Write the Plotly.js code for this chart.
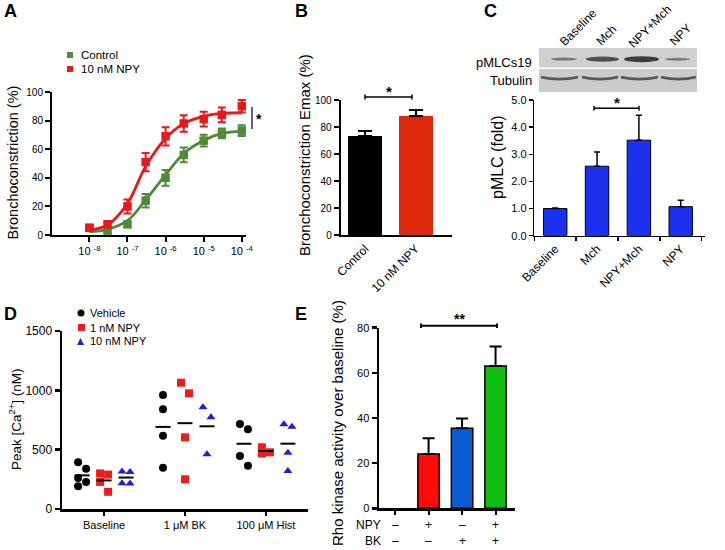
<!DOCTYPE html>
<html><head><meta charset="utf-8">
<script src="https://cdn.plot.ly/plotly-3.0.1.min.js"></script>
<style>html,body{margin:0;padding:0;background:#fff}#chart{width:725px;height:550px}</style>
</head><body><div id="chart"></div>
<script>
// ---------- Panel A data ----------
const aConc = [1e-8, 3e-8, 1e-7, 3e-7, 1e-6, 3e-6, 1e-5, 3e-5, 1e-4];
const aTickVals = [1e-8, 1e-7, 1e-6, 1e-5, 1e-4];
const aTickText = ['10 <sup>-8</sup>', '10 <sup>-7</sup>', '10 <sup>-6</sup>', '10 <sup>-5</sup>', '10 <sup>-4</sup>'];
const aCtrl = [5, 3, 7.5, 24, 40, 56, 66, 71, 73];
const aCtrlErr = [1.5, 1.5, 2, 4.7, 5.5, 5.2, 4.1, 3.4, 3.7];
const aNpy = [5, 7.5, 20, 51, 69, 78, 81, 84, 90];
const aNpyErr = [2, 2, 4.9, 6.4, 6.4, 5.8, 5.2, 5.1, 4.4];
const aCtrlFit = [2.3, 4, 10, 24.5, 42, 57, 66, 71, 72.5];
const aNpyFit = [3.5, 7, 22, 48, 67.5, 78, 83, 85, 85.5];
// ---------- Panel B data ----------
const bCats = ['Control', '10 nM NPY'];
const bVals = [73.5, 88.2];
const bErr = [3.5, 4.4];
// ---------- Panel C data ----------
const cCats = ['Baseline', 'Mch', 'NPY+Mch', 'NPY'];
const cVals = [1.0, 2.56, 3.52, 1.07];
const cErr = [0.02, 0.52, 0.92, 0.24];
// ---------- Panel D data ----------
const dCats = ['Baseline', '1 \u03bcM BK', '100 \u03bcM Hist'];
const dVehicle = [[395, 340, 262, 228, 192], [961, 840, 618, 348], [716, 671, 447, 365]];
const d1nM = [[300, 290, 228, 145], [1064, 975, 604, 250], [520, 478, 468]];
const d10nM = [[315, 312, 218, 215], [857, 773, 461], [714, 694, 474, 320]];
const dGroups = ['Vehicle', '1 nM NPY', '10 nM NPY'];
// ---------- Panel E data ----------
const eCats = ['none', 'NPY', 'BK', 'NPY+BK'];
const eVals = [null, 24, 35.5, 63];
const eErr = [0, 7, 4.3, 8.7];
const eNpyRow = ['\u2013', '+', '\u2013', '+'];
const eBkRow = ['\u2013', '\u2013', '+', '+'];

// ---------- helpers ----------
const W = 725, H = 550;
const FONT = 'Liberation Sans, Arial, sans-serif';
const xd = (a, b) => [a / W, b / W];
const yd = (top, bot) => [1 - bot / H, 1 - top / H];
const px = x => x / W;
const py = y => 1 - y / H;

const GREEN = '#4e8a3a', RED = '#e8191c';
const traces = [];

// Panel A
traces.push({x: aConc, y: aCtrlFit, mode: 'lines', line: {color: GREEN, width: 2.8, shape: 'spline', smoothing: 1}, xaxis: 'x', yaxis: 'y', hoverinfo: 'skip'});
traces.push({x: aConc, y: aNpyFit, mode: 'lines', line: {color: RED, width: 2.8, shape: 'spline', smoothing: 1}, xaxis: 'x', yaxis: 'y', hoverinfo: 'skip'});
traces.push({x: aConc, y: aCtrl, mode: 'markers', marker: {symbol: 'square', size: 8.5, color: GREEN},
  error_y: {type: 'data', array: aCtrlErr, color: GREEN, thickness: 2, width: 4}, xaxis: 'x', yaxis: 'y'});
traces.push({x: aConc, y: aNpy, mode: 'markers', marker: {symbol: 'square', size: 8.5, color: RED},
  error_y: {type: 'data', array: aNpyErr, color: RED, thickness: 2, width: 4}, xaxis: 'x', yaxis: 'y'});

// Panel B
traces.push({type: 'bar', x: bCats, y: bVals, width: 0.67, marker: {color: ['#000000', '#de2a0c'], line: {width: 0}},
  error_y: {type: 'data', symmetric: false, array: bErr, arrayminus: [0, 0], color: '#000', thickness: 2, width: 7},
  xaxis: 'x2', yaxis: 'y2'});

// Panel C
traces.push({type: 'bar', x: cCats, y: cVals, width: 0.56, marker: {color: '#1d30ee', line: {color: '#000', width: 1}},
  error_y: {type: 'data', symmetric: false, array: cErr, arrayminus: cErr.map(() => 0), color: '#000', thickness: 1.5, width: 3},
  xaxis: 'x3', yaxis: 'y3'});

// Panel D
const D_PX_PER_UNIT = 81;
function spread(vals) {
  const idx = vals.map((v, i) => i).sort((a, b) => vals[b] - vals[a]);
  const off = new Array(vals.length).fill(0);
  let cluster = [idx[0]];
  const flush = () => { if (cluster.length > 1) cluster.forEach((k, j) => { off[k] = (j % 2 === 0 ? -1 : 1) * 4; }); };
  for (let i = 1; i < idx.length; i++) {
    if (vals[idx[i - 1]] - vals[idx[i]] < 100) cluster.push(idx[i]);
    else { flush(); cluster = [idx[i]]; }
  }
  flush();
  return off;
}
const dSeries = [dVehicle, d1nM, d10nM];
const dSymbols = ['circle', 'square', 'triangle-up'];
const dColors = ['#000000', '#ee1c1c', '#1c22d8'];
const dSizes = [8, 8, 8];
const dGroupOff = [-22, 0, 22];
dSeries.forEach((ser, g) => {
  const xs = [], ys = [], mx = [], my = [];
  ser.forEach((vals, c) => {
    const off = spread(vals);
    const cx = c + 1 + dGroupOff[g] / D_PX_PER_UNIT;
    vals.forEach((v, i) => { xs.push(cx + off[i] / D_PX_PER_UNIT); ys.push(v); });
    const mean = vals.reduce((s, v) => s + v, 0) / vals.length;
    mx.push(cx - 7.5 / D_PX_PER_UNIT, cx + 7.5 / D_PX_PER_UNIT, null);
    my.push(mean, mean, null);
  });
  traces.push({x: xs, y: ys, mode: 'markers', name: dGroups[g], marker: {symbol: dSymbols[g], size: dSizes[g], color: dColors[g]}, xaxis: 'x4', yaxis: 'y4'});
  traces.push({x: mx, y: my, mode: 'lines', line: {color: '#000', width: 2}, xaxis: 'x4', yaxis: 'y4', hoverinfo: 'skip'});
});

// Panel E
traces.push({type: 'bar', x: eCats, y: eVals, width: 0.64,
  marker: {color: ['#ffffff', '#ff0a0a', '#0a5cd0', '#10c010'], line: {color: '#000', width: 1.5}},
  error_y: {type: 'data', symmetric: false, array: eErr, arrayminus: eErr.map(() => 0), color: '#000', thickness: 2, width: 6},
  xaxis: 'x5', yaxis: 'y5'});

// ---------- axes ----------
function ax(extra) {
  return Object.assign({showline: true, linecolor: '#000', linewidth: 2, ticks: 'outside', tickcolor: '#000', tickwidth: 2, ticklen: 5,
    showgrid: false, zeroline: false, fixedrange: true, tickfont: {family: FONT, size: 10, color: '#000'}}, extra);
}

const layout = {
  width: W, height: H, margin: {l: 0, r: 0, t: 0, b: 0}, paper_bgcolor: '#fff', plot_bgcolor: 'rgba(0,0,0,0)',
  showlegend: false, font: {family: FONT, color: '#000'}, bargap: 0,
  xaxis: ax({type: 'log', domain: xd(52, 246), range: [-8.98, -3.89], anchor: 'y', tickmode: 'array', tickvals: aTickVals, ticktext: aTickText, tickfont: {family: FONT, size: 11, color: '#000'}}),
  yaxis: ax({domain: yd(92, 235), range: [0, 100], dtick: 20, anchor: 'x'}),
  xaxis2: ax({type: 'category', domain: xd(340.7, 451.7), range: [-0.48, 1.71], anchor: 'y2', ticks: '', tickangle: -45, tickfont: {family: FONT, size: 12, color: '#000'}}),
  yaxis2: ax({domain: yd(100, 235), range: [0, 100], dtick: 20, anchor: 'x2'}),
  xaxis3: ax({type: 'category', domain: xd(534.3, 705), range: [-0.5, 3.58], anchor: 'y3', tickson: 'boundaries', linewidth: 1.5, tickwidth: 1.5, ticklen: 4, tickangle: -45, tickfont: {family: FONT, size: 12, color: '#000'}}),
  yaxis3: ax({domain: yd(100, 235.7), range: [0, 5], dtick: 1, tickformat: '.1f', anchor: 'x3', linewidth: 1.5, tickwidth: 1.5, ticklen: 4, tickfont: {family: FONT, size: 11, color: '#000'}}),
  xaxis4: ax({domain: xd(62, 308), range: [0.48, 3.52], anchor: 'y4', tickmode: 'array', tickvals: [1, 2, 3], ticktext: dCats, linewidth: 2.5, tickwidth: 2.5, ticklen: 4, tickfont: {family: FONT, size: 11, color: '#000'}}),
  yaxis4: ax({domain: yd(331, 509), range: [0, 1500], dtick: 500, anchor: 'x4', linewidth: 2.5, tickwidth: 2.5, tickfont: {family: FONT, size: 12, color: '#000'}}),
  xaxis5: ax({type: 'category', domain: xd(379, 515), range: [-0.48, 3.58], anchor: 'y5', showticklabels: false, linewidth: 2.5, tickwidth: 2, ticklen: 4}),
  yaxis5: ax({domain: yd(327.7, 508.3), range: [0, 80], dtick: 20, anchor: 'x5', linewidth: 2.5, tickwidth: 2.5, tickfont: {family: FONT, size: 11, color: '#000'}}),
  annotations: [], shapes: []
};

const ann = layout.annotations, shp = layout.shapes;
function txt(t, x, y, o) {
  ann.push(Object.assign({text: t, x: px(x), y: py(y), xref: 'paper', yref: 'paper', showarrow: false,
    xanchor: 'center', yanchor: 'middle', font: {family: FONT, size: 11, color: '#000'}}, o || {}));
}
function line(x0, y0, x1, y1, w, c) {
  shp.push({type: 'line', xref: 'paper', yref: 'paper', x0: px(x0), y0: py(y0), x1: px(x1), y1: py(y1), line: {color: c || '#000', width: w || 1.5}});
}
function rect(x0, y0, x1, y1, fill, type) {
  shp.push({type: type || 'rect', xref: 'paper', yref: 'paper', x0: px(x0), y0: py(y0), x1: px(x1), y1: py(y1), fillcolor: fill, line: {width: 0}, layer: 'above'});
}
function path(d, fill) {
  shp.push({type: 'path', xref: 'paper', yref: 'paper', path: d, fillcolor: fill, line: {width: 0}, layer: 'above'});
}
const P = (x, y) => px(x) + ',' + py(y);

// panel letters
[['A', 2, 11], ['B', 293, 11], ['C', 482, 11], ['D', 2, 314], ['E', 293, 314]].forEach(([t, x, y]) =>
  txt('<b>' + t + '</b>', x, y, {xanchor: 'left', font: {family: FONT, size: 18, color: '#000'}}));

// axis titles
txt('Bronchoconstriction (%)', 12.5, 163, {textangle: -90, font: {family: FONT, size: 14.5, color: '#000'}});
txt('Bronchoconstriction Emax (%)', 305, 155, {textangle: -90, font: {family: FONT, size: 15, color: '#000'}});
txt('pMLC (fold)', 498, 157, {textangle: -90, font: {family: FONT, size: 16, color: '#000'}});
txt('Peak [Ca<sup>2+</sup>] (nM)', 15, 419, {textangle: -90, font: {family: FONT, size: 13.5, color: '#000'}});
txt('Rho kinase activity over baseline (%)', 337, 423, {textangle: -90, font: {family: FONT, size: 15, color: '#000'}});

// legend A
rect(67, 52, 73, 58, GREEN);
rect(67, 66, 73, 72, RED);
txt('Control', 79, 55, {xanchor: 'left', font: {family: FONT, size: 11.5, color: '#000'}});
txt('10 nM NPY', 79, 69, {xanchor: 'left', font: {family: FONT, size: 11.5, color: '#000'}});
// significance A
line(252, 107, 252, 129, 1.5, '#333');
txt('<b>*</b>', 259, 119, {font: {family: FONT, size: 14, color: '#000'}});

// significance B
line(365, 97, 412, 97, 1.5); line(365, 94.5, 365, 99.5, 1.5); line(412, 94.5, 412, 99.5, 1.5);
txt('<b>*</b>', 388.5, 91, {font: {family: FONT, size: 15, color: '#000'}});
// significance C
line(594, 108.3, 639, 108.3, 1.5); line(594, 106, 594, 110.5, 1.5); line(639, 106, 639, 110.5, 1.5);
txt('<b>*</b>', 617, 103, {font: {family: FONT, size: 15, color: '#000'}});
// significance E
line(421, 325.7, 497, 325.7, 2); line(421, 323.5, 421, 328, 2); line(497, 323.5, 497, 328, 2);
txt('<b>**</b>', 459, 319, {font: {family: FONT, size: 14, color: '#000'}});

// western blot
rect(539, 48, 697, 67.5, '#d0d0d0');
rect(539, 69, 697, 92, '#cbcbcb');
rect(551, 57.6, 577, 60.6, 'rgba(60,60,60,0.6)', 'circle');
rect(586, 56.6, 619, 61.8, 'rgba(45,45,45,0.78)', 'circle');
rect(624, 56.2, 659, 62.2, 'rgba(35,35,35,0.85)', 'circle');
rect(665, 57.8, 690, 60.8, 'rgba(60,60,60,0.6)', 'circle');
[[541, 578], [582, 618], [621, 658], [661, 696]].forEach(([a, b]) => {
  const m = (a + b) / 2;
  path('M' + P(a, 75.8) + ' Q' + P(m, 79.5) + ' ' + P(b, 75.8) + ' L' + P(b, 78.6) + ' Q' + P(m, 82.5) + ' ' + P(a, 78.6) + ' Z', 'rgba(50,50,50,0.75)');
});
txt('pMLCs19', 534, 62, {xanchor: 'right', font: {family: FONT, size: 13, color: '#000'}});
txt('Tubulin', 534, 80, {xanchor: 'right', font: {family: FONT, size: 13, color: '#000'}});
[['Baseline', 577.5, 27.5], ['Mch', 606.5, 35], ['NPY+Mch', 649.5, 27], ['NPY', 680, 34.5]].forEach(([t, x, y]) =>
  txt(t, x, y, {textangle: -45, font: {family: FONT, size: 12, color: '#000'}}));

// legend D
shp.push({type: 'circle', xref: 'paper', yref: 'paper', x0: px(77.5), y0: py(316.5), x1: px(84.5), y1: py(309.5), fillcolor: '#000', line: {width: 0}});
rect(78, 324, 85, 331, '#ee1c1c');
path('M' + P(77, 345) + ' L' + P(84, 345) + ' L' + P(80.5, 338) + ' Z', '#1c22d8');
txt('Vehicle', 88, 313, {xanchor: 'left'});
txt('1 nM NPY', 88, 327.5, {xanchor: 'left'});
txt('10 nM NPY', 88, 341.5, {xanchor: 'left'});

// E condition rows
txt('NPY', 383, 525, {xanchor: 'right', font: {family: FONT, size: 12, color: '#000'}});
txt('BK', 383, 541, {xanchor: 'right', font: {family: FONT, size: 12, color: '#000'}});
eCats.forEach((c, i) => {
  ann.push({text: eNpyRow[i], x: c, xref: 'x5', y: py(525), yref: 'paper', showarrow: false, xanchor: 'center', yanchor: 'middle', font: {family: FONT, size: 12, color: '#000'}});
  ann.push({text: eBkRow[i], x: c, xref: 'x5', y: py(541), yref: 'paper', showarrow: false, xanchor: 'center', yanchor: 'middle', font: {family: FONT, size: 12, color: '#000'}});
});

Plotly.newPlot('chart', traces, layout, {staticPlot: true, displayModeBar: false});
</script></body></html>
